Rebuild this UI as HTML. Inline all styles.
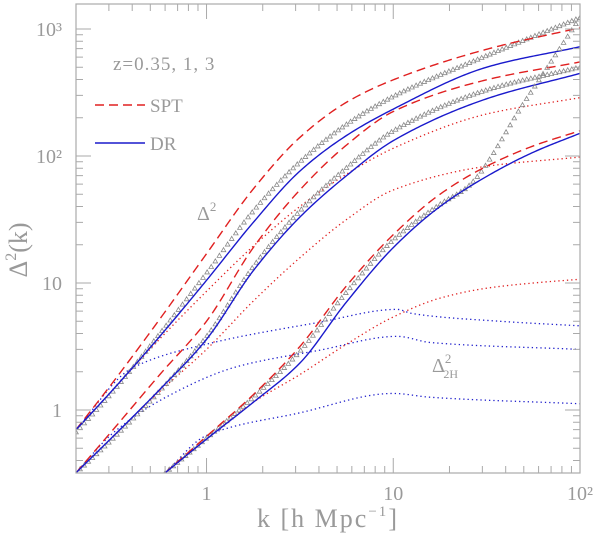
<!DOCTYPE html>
<html><head><meta charset="utf-8">
<style>
html,body{margin:0;padding:0;background:#fff;}
svg{display:block;}
text{font-family:"Liberation Serif",serif;fill:#9a9a9a;}
</style></head>
<body>
<svg id="chart" width="600" height="534" viewBox="0 0 600 534" xmlns="http://www.w3.org/2000/svg">
<g id="plot"></g>
<g id="axes"></g>
<g id="labels">
  <text x="113" y="70" font-size="19" letter-spacing="1">z=0.35, 1, 3</text>
  <line x1="95" y1="105" x2="145" y2="105" stroke="#e02020" stroke-width="1.4" stroke-dasharray="9,5"/>
  <text x="150" y="112" font-size="19">SPT</text>
  <line x1="95" y1="143" x2="145" y2="143" stroke="#1a1acc" stroke-width="1.4"/>
  <text x="150" y="150" font-size="19">DR</text>
  <text x="197" y="220" font-size="20">Δ<tspan dy="-9" font-size="13">2</tspan></text>
  <text x="432" y="372" font-size="20">Δ<tspan dy="-9" font-size="13">2</tspan><tspan dx="-8" dy="15" font-size="12">2H</tspan></text>
  <text transform="translate(27,250) rotate(-90)" text-anchor="middle" font-size="26">Δ<tspan dy="-11" font-size="16">2</tspan><tspan dy="11">(k)</tspan></text>
  <text x="328" y="527" text-anchor="middle" font-size="26" letter-spacing="2">k [h Mpc<tspan dy="-11" font-size="15">−1</tspan><tspan dy="11">]</tspan></text>
</g>
</svg>
<script>
// ---- data (k in h/Mpc, Delta^2) ----
const kGrid=[0.2,0.316,0.562,1,1.78,3.16,5.62,10,31.6,100];
const vDRtop=[0.70,1.45,3.8,10.5,30,76,145,234,500,725];
const vSPTtop=[0.70,1.66,5.2,17,55,140,265,398,692,1023];
const vTRItop=[0.67,1.41,4.0,12,37,90,178,295,617,1230];
const vRDtop=[0.70,1.45,3.63,8.6,19.5,40,72,115,214,288];
const kBDtop=[0.2,0.4,1,4,10.5,12.6,37,100];
const vBDtop=[0.70,2.14,3.3,4.9,6.2,5.75,5.0,4.6];

const vDRmid=[0.32,0.62,1.45,3.6,12.5,33,70,132,282,447];
const vSPTmid=[0.32,0.70,1.9,5.0,19,54,122,224,398,550];
const vTRImid=[0.32,0.60,1.42,3.8,13.5,37,81,158,331,501];
const kRDmid=[0.316,0.562,1,1.78,3.16,5.62,10,31.6,100];
const vRDmid=[0.62,1.4,3.0,7.2,15.8,31.6,54,83,98];
const kBDmid=[0.2,0.316,0.63,1.45,4,10.5,15.8,100];
const vBDmid=[0.32,0.66,1.3,2.19,2.95,3.8,3.4,3.0];

const kBot=[0.6,1,1.78,3.16,5.62,10,17.8,31.6,56.2,100];
const vDRbot=[0.32,0.59,1.15,2.34,7.1,19,40,69,107,151];
const vSPTbot=[0.32,0.62,1.32,3.16,9.5,24,50,83,120,158];
const vRDbot=[0.32,0.59,1.15,1.9,3.3,5.4,7.6,9.1,10,10.7];
const kTRIbot=[0.6,1,1.78,3.16,5.62,10,17.8,25.1,50.1,100];
const vTRIbot=[0.32,0.60,1.26,2.9,8.5,21.9,41.7,57.5,263,1230];
const kBDbot=[0.6,1,3.16,10,15.8,100];
const vBDbot=[0.32,0.63,0.95,1.35,1.26,1.12];

const xTickLabels=["1","10","10²"];
const yTickLabels=["1","10","10²","10³"];

// ---- axes ----
const X0=76,X1=580,Y0=473,Y1=4;
const kMin=0.2,kMax=100,vMin=Math.pow(10,-63/127),vMax=Math.pow(10,406/127);
function xs(k){return X0+(Math.log10(k)-Math.log10(kMin))/(Math.log10(kMax)-Math.log10(kMin))*(X1-X0);}
function ys(v){return Y0-(Math.log10(v)-Math.log10(vMin))/(Math.log10(vMax)-Math.log10(vMin))*(Y0-Y1);}
const NS="http://www.w3.org/2000/svg";
const plot=document.getElementById('plot'),axes=document.getElementById('axes');
function mk(tag,attrs,parent){const e=document.createElementNS(NS,tag);for(const a in attrs)e.setAttribute(a,attrs[a]);parent.appendChild(e);return e;}

const defs=mk('defs',{},plot);
const cp=mk('clipPath',{id:'clip'},defs);
mk('rect',{x:X0,y:Y1,width:X1-X0,height:Y0-Y1},cp);
const g=mk('g',{'clip-path':'url(#clip)'},plot);



// monotone cubic (PCHIP) interpolation in log-log
function interp(ks,vs,lk){
  const L=ks.map(Math.log10),V=vs.map(Math.log10);const n=L.length;
  const d=[];for(let i=0;i<n-1;i++)d.push((V[i+1]-V[i])/(L[i+1]-L[i]));
  if(lk<=L[0])return V[0]+d[0]*(lk-L[0]);
  if(lk>=L[n-1])return V[n-1]+d[n-2]*(lk-L[n-1]);
  const m=[];m[0]=d[0];m[n-1]=d[n-2];
  for(let i=1;i<n-1;i++){if(d[i-1]*d[i]<=0)m[i]=0;else{const h0=L[i]-L[i-1],h1=L[i+1]-L[i];const w1=2*h1+h0,w2=h1+2*h0;m[i]=(w1+w2)/(w1/d[i-1]+w2/d[i]);}}
  let i=0;while(lk>L[i+1])i++;
  const h=L[i+1]-L[i],t=(lk-L[i])/h,t2=t*t,t3=t2*t;
  return (2*t3-3*t2+1)*V[i]+(t3-2*t2+t)*h*m[i]+(-2*t3+3*t2)*V[i+1]+(t3-t2)*h*m[i+1];
}
function curve(ks,vs,style,name){
  const a=Math.log10(ks[0]),b=Math.log10(ks[ks.length-1]);let d='';
  for(let i=0;i<=240;i++){const lk=a+(b-a)*i/240;const k=Math.pow(10,lk),v=Math.pow(10,interp(ks,vs,lk));d+=(i?'L':'M')+xs(k).toFixed(2)+','+ys(v).toFixed(2);}
  const p=mk('path',Object.assign({d:d,fill:'none'},style),g);
  
  
}
function tris(ks,vs,name){
  const gg=mk('g',{},g);
  
  
  const a=Math.log10(ks[0]),b=Math.log10(ks[ks.length-1]);let d='';
  const n=Math.round((b-a)/0.022);
  for(let i=0;i<=n;i++){const lk=a+(b-a)*i/n;const x=xs(Math.pow(10,lk)),y=ys(Math.pow(10,interp(ks,vs,lk)));
    d+='M'+(x-2.3).toFixed(2)+','+(y+1.8).toFixed(2)+'L'+(x+2.3).toFixed(2)+','+(y+1.8).toFixed(2)+'L'+x.toFixed(2)+','+(y-2.3).toFixed(2)+'Z';}
  mk('path',{d:d,fill:'none',stroke:'#8a8a8a','stroke-width':0.8},gg);
}
const RD={stroke:'#e02020','stroke-width':1.3,'stroke-dasharray':'1.3,3'};
const BD={stroke:'#2020cc','stroke-width':1.3,'stroke-dasharray':'1.3,3'};
const SP={stroke:'#e02020','stroke-width':1.4,'stroke-dasharray':'9,5'};
const DR={stroke:'#1a1acc','stroke-width':1.4};
[['top',kGrid,vRDtop,kBDtop,vBDtop,kGrid,vTRItop,kGrid,vSPTtop,kGrid,vDRtop],
 ['mid',kRDmid,vRDmid,kBDmid,vBDmid,kGrid,vTRImid,kGrid,vSPTmid,kGrid,vDRmid],
 ['bot',kBot,vRDbot,kBDbot,vBDbot,kTRIbot,vTRIbot,kBot,vSPTbot,kBot,vDRbot]].forEach(s=>{
  curve(s[1],s[2],RD,'one-loop-dotted-'+s[0]);
  curve(s[3],s[4],BD,'two-halo-dotted-'+s[0]);
  tris(s[5],s[6],'simulation-triangles-'+s[0]);
  curve(s[7],s[8],SP,'spt-dashed-'+s[0]);
  curve(s[9],s[10],DR,'dr-solid-'+s[0]);
});

const AX='#aaaaaa';
const frame=mk('rect',{x:X0,y:Y1,width:X1-X0,height:Y0-Y1,fill:'none',stroke:AX,'stroke-width':1.2},axes);


let td='';
for(let e=-1;e<=2;e++)for(let m=1;m<=9;m++){const k=m*Math.pow(10,e);if(k<kMin-1e-9||k>kMax+1e-9)continue;const x=xs(k),L=(m===1)?15:7;
  td+='M'+x+','+Y0+'v'+(-L)+'M'+x+','+Y1+'v'+L;}
for(let e=-1;e<=3;e++)for(let m=1;m<=9;m++){const v=m*Math.pow(10,e);if(v<vMin||v>vMax)continue;const y=ys(v),L=(m===1)?15:7;
  td+='M'+X0+','+y+'h'+L+'M'+X1+','+y+'h'+(-L);}
const ticks=mk('path',{d:td,stroke:AX,'stroke-width':1,fill:'none'},axes);


xTickLabels.forEach((t,i)=>{const el=mk('text',{x:xs(Math.pow(10,i)),y:500,'text-anchor':'middle','font-size':20},axes);el.textContent=t;
  
  });
yTickLabels.forEach((t,i)=>{const el=mk('text',{x:62,y:ys(Math.pow(10,i))+7,'text-anchor':'end','font-size':20},axes);el.textContent=t;
  
  });
</script>
</body></html>
